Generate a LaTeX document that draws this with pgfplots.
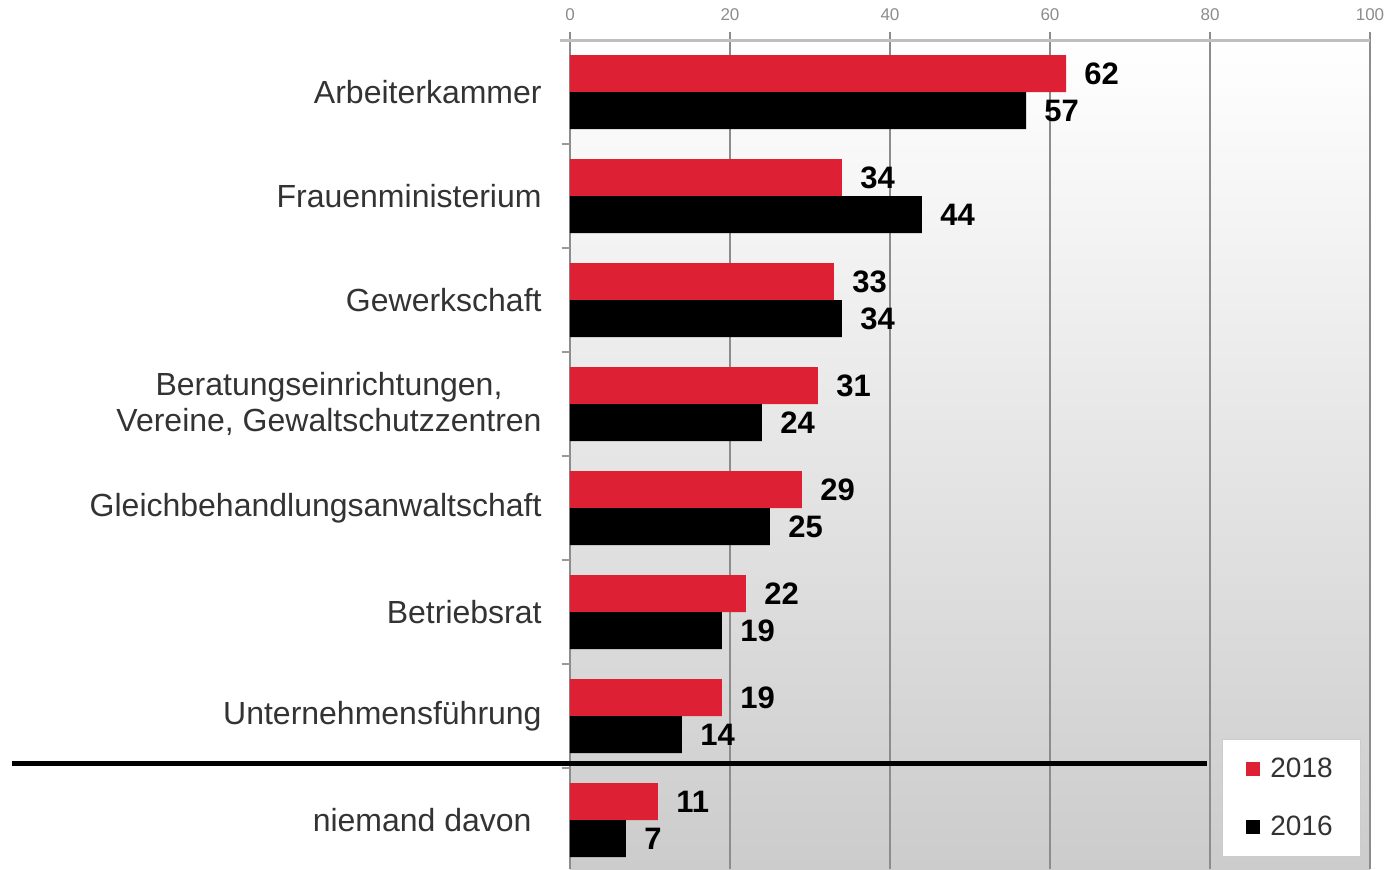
\documentclass[border=0pt]{standalone}
\usepackage{pgfplots}
\pgfplotsset{compat=1.18}
\usepackage{fontspec}
\setmainfont{Liberation Sans}
\definecolor{myred}{RGB}{222,32,52}
\definecolor{labelgray}{RGB}{51,51,51}
\begin{document}
\begin{tikzpicture}
\path[use as bounding box] (-285pt,0pt) rectangle (407.5pt,434.5pt);
\begin{axis}[
  at={(0pt,0pt)}, anchor=south west,
  scale only axis, width=400pt, height=414.5pt,
  xbar, bar width=18.5pt,
  xmin=0, xmax=100, ymin=-0.471, ymax=7.5,
  xtick={0,20,...,100},
  xticklabel pos=right, xtick pos=right,
  xmajorgrids, grid style={black!45, line width=0.6pt},
  every major x tick/.append style={black!45, line width=0.6pt},
  major tick length=4pt, minor tick length=4pt, tick align=outside,
  xticklabel style={font=\fontsize{8.5}{10}\selectfont, text=black!45, yshift=2pt},
  /pgf/number format/assume math mode=true,
  ytick={0,...,7},
  yticklabels={{niemand davon\kern5pt}, Unternehmensführung, Betriebsrat, Gleichbehandlungsanwaltschaft, {Beratungseinrichtungen,\\Vereine, Gewaltschutzzentren}, Gewerkschaft, Frauenministerium, Arbeiterkammer},
  ytick pos=left,
  every major y tick/.append style={draw=none},
  minor ytick={0.5,1.5,...,6.5},
  every minor y tick/.append style={black!40, line width=0.6pt},
  yticklabel style={font=\fontsize{16}{18}\selectfont, text=labelgray, align=center, inner sep=0pt, xshift=-10pt},
  axis line style={draw=none},
  axis background/.style={top color=white, bottom color=black!20},
  nodes near coords, nodes near coords align=horizontal,
  every node near coord/.append style={font=\fontsize{15.5}{18}\selectfont\bfseries, text=black, anchor=west, inner sep=0pt, xshift=9pt},
  legend style={at={(0.815,0.0145)}, anchor=south west, draw=black!20, fill=white,
    font=\fontsize{14}{16}\selectfont, text=labelgray, inner xsep=12pt, inner ysep=7pt, row sep=14pt,
    /tikz/every odd column/.append style={column sep=3pt}},
  legend cell align=left,
  legend image code/.code={\fill[#1] (0pt,-3.5pt) rectangle (7pt,3.5pt);},
  clip=false,
]
\addplot[fill=myred, draw=none, bar shift=9.25pt] coordinates {(11,0) (19,1) (22,2) (29,3) (31,4) (33,5) (34,6) (62,7)};
\addplot[fill=black, draw=none, bar shift=-9.25pt] coordinates {(7,0) (14,1) (19,2) (25,3) (24,4) (34,5) (44,6) (57,7)};
\legend{2018,2016}
\draw[black!30, line width=1.5pt] (axis cs:-69.75,0.53) -- (axis cs:79.625,0.53);
\draw[black, line width=2.5pt] (axis cs:-69.75,0.548) -- (axis cs:79.625,0.548);
\draw[black!25, line width=1.5pt] (rel axis cs:-0.0125,1) -- (rel axis cs:1,1);
\end{axis}
\end{tikzpicture}
\end{document}
